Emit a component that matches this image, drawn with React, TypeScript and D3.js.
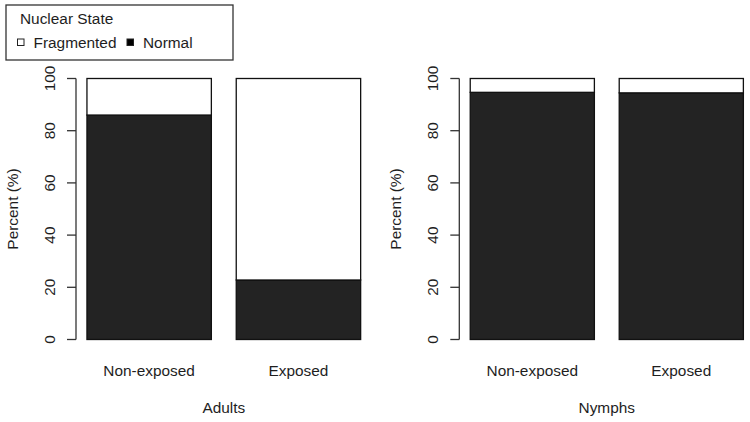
import * as d3 from "d3";

// data (percent of nuclei)
const groups = ["Adults", "Nymphs"];
const conditions = ["Non-exposed", "Exposed"];
const normalPct = [
  [86.0, 22.8], // Adults
  [94.7, 94.5], // Nymphs
];
const yTicks = [0, 20, 40, 60, 80, 100];
const legendTitle = "Nuclear State";
const legendItems = ["Fragmented", "Normal"];

const W = 750;
const H = 422;
const FONT = "'Liberation Sans', Arial, sans-serif";
const FS = 15.4;
const INK = "#1e1e1e";
const DARK = "#232323";

// plot regions (R style: bars at 0.2..1.2, 1.4..2.4, 4% expansion)
const panels = [
  { left: 76, right: 371.6 },
  { left: 459.3, right: 754.3 },
];
const plotTop = 78.5;
const plotBottom = 339.5;

const Panel = ({ idx }: { idx: number }) => {
  const p = panels[idx];
  const x = d3.scaleLinear().domain([0.112, 2.488]).range([p.left, p.right]);
  const y = d3.scaleLinear().domain([0, 100]).range([plotBottom, plotTop]);
  const vals = normalPct[idx];
  const cx = (p.left + p.right) / 2;

  return (
    <g>
      {/* y axis */}
      <line x1={p.left} x2={p.left} y1={y(0)} y2={y(100)} stroke="#333" strokeWidth={1.3} />
      {yTicks.map((t) => (
        <g key={t}>
          <line x1={p.left - 9} x2={p.left} y1={y(t)} y2={y(t)} stroke="#333" strokeWidth={1.3} />
          <text
            transform={`translate(${p.left - 21},${y(t)}) rotate(-90)`}
            textAnchor="middle"
            fontSize={FS}
            fill={INK}
          >
            {t}
          </text>
        </g>
      ))}
      <text
        transform={`translate(${p.left - 58},${(y(0) + y(100)) / 2}) rotate(-90)`}
        textAnchor="middle"
        fontSize={FS}
        fill={INK}
      >
        Percent (%)
      </text>

      {/* stacked bars */}
      {conditions.map((c, i) => {
        const x0 = x(0.2 + i * 1.2);
        const x1 = x(1.2 + i * 1.2);
        const v = vals[i];
        return (
          <g key={c}>
            <rect x={x0} y={y(v)} width={x1 - x0} height={y(0) - y(v)} fill={DARK} stroke="#111" strokeWidth={1.3} />
            <rect x={x0} y={y(100)} width={x1 - x0} height={y(v) - y(100)} fill="#fff" stroke="#111" strokeWidth={1.3} />
            <text x={(x0 + x1) / 2} y={376} textAnchor="middle" fontSize={FS} fill={INK}>
              {c}
            </text>
          </g>
        );
      })}
      <text x={cx} y={413} textAnchor="middle" fontSize={FS} fill={INK}>
        {groups[idx]}
      </text>
    </g>
  );
};

export default function App() {
  return (
    <svg width={W} height={H} style={{ display: "block", position: "absolute", left: 0, top: 0 }} fontFamily={FONT}>
      <rect width={W} height={H} fill="#fff" />
      {/* legend */}
      <rect x={6} y={5} width={227} height={55} fill="#fff" stroke="#333" strokeWidth={1.3} />
      <text x={20} y={24} fontSize={FS} fill={INK}>
        {legendTitle}
      </text>
      {legendItems.map((l, i) => {
        const sx = i === 0 ? 17.5 : 127;
        return (
          <g key={l}>
            <rect x={sx} y={39} width={6.5} height={6.5} fill={i === 0 ? "#fff" : "#000"} stroke="#222" strokeWidth={1} />
            <text x={sx + 16} y={47.5} fontSize={FS} fill={INK}>
              {l}
            </text>
          </g>
        );
      })}
      {groups.map((g, i) => (
        <Panel key={g} idx={i} />
      ))}
    </svg>
  );
}
